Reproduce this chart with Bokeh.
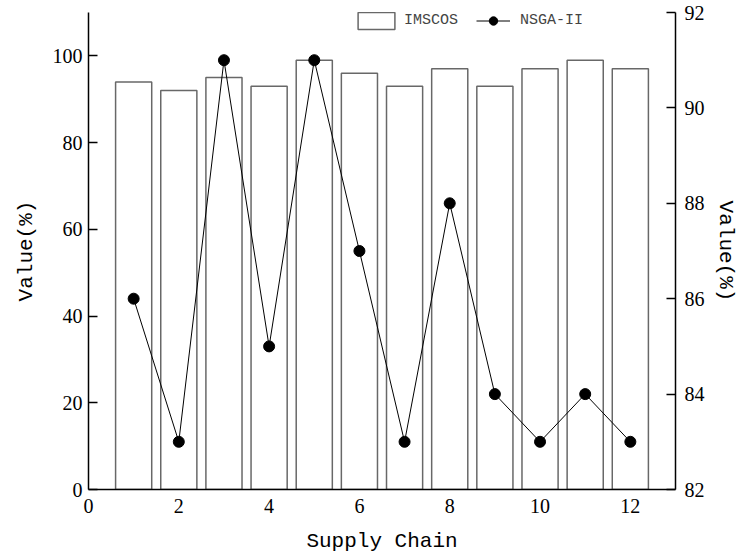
from bokeh.plotting import figure
from bokeh.models import Range1d, LinearAxis, FixedTicker, Legend, LegendItem, ColumnDataSource
from bokeh.embed import file_html
from bokeh.resources import INLINE

chains = [1, 2, 3, 4, 5, 6, 7, 8, 9, 10, 11, 12]
imscos = [94, 92, 95, 93, 99, 96, 93, 97, 93, 97, 99, 97]
nsga2 = [86, 83, 91, 85, 91, 87, 83, 88, 84, 83, 84, 83]
x_ticks = [0, 2, 4, 6, 8, 10, 12]
left_ticks = [0, 20, 40, 60, 80, 100]
right_ticks = [82, 84, 86, 88, 90, 92]

src_bar = ColumnDataSource(dict(x=chains, top=imscos))
src_line = ColumnDataSource(dict(x=chains, y=nsga2))

p = figure(width=739, height=558, output_backend="svg", toolbar_location=None,
           x_range=Range1d(0, 13), y_range=Range1d(0, 110),
           min_border_left=88, min_border_top=12, min_border_bottom=69, min_border_right=59)
p.extra_y_ranges = {"right": Range1d(82, 92)}
p.grid.visible = False
p.outline_line_color = None
p.background_fill_color = "white"
p.border_fill_color = "white"

bars = p.vbar(x="x", top="top", width=0.8, bottom=0, source=src_bar,
              fill_color="white", line_color="#686868", line_width=1.5)
line = p.line(x="x", y="y", source=src_line, y_range_name="right",
              line_color="black", line_width=1)
pts = p.scatter(x="x", y="y", source=src_line, y_range_name="right",
                size=11, fill_color="black", line_color="black")

tick_font = "Liberation Serif"
label_font = "Liberation Mono"

xa = p.xaxis[0]
xa.ticker = FixedTicker(ticks=x_ticks)
xa.axis_label = "Supply Chain"
xa.major_tick_in = 0
xa.major_tick_out = 0
xa.minor_tick_line_color = None

ya = p.yaxis[0]
ya.ticker = FixedTicker(ticks=left_ticks)
ya.axis_label = "Value(%)"
ya.major_tick_in = 9
ya.major_tick_out = 0
ya.minor_tick_line_color = None

ra = LinearAxis(y_range_name="right", axis_label="Value(%)",
                ticker=FixedTicker(ticks=right_ticks))
ra.major_tick_in = 9
ra.major_tick_out = 0
ra.minor_tick_line_color = None
p.add_layout(ra, "right")

for ax in [xa, ya, ra]:
    ax.axis_line_color = "black"
    ax.axis_line_width = 1.5
    ax.major_tick_line_width = 1.5
    ax.major_tick_line_color = "black"
    ax.major_label_text_font = tick_font
    ax.major_label_text_font_size = "20px"
    ax.major_label_text_color = "black"
    ax.axis_label_text_font = label_font
    ax.axis_label_text_font_style = "normal"
    ax.axis_label_text_font_size = "21px"
    ax.axis_label_text_color = "black"
    ax.major_label_standoff = 6
    ax.axis_label_standoff = 10

xa.major_label_standoff = 9
xa.axis_label_standoff = 14
ya.axis_label_standoff = 12
ya.major_label_orientation = "horizontal"
ra.major_label_orientation = "horizontal"
ra.major_label_standoff = 9
ra.axis_label_standoff = 6

leg1 = Legend(items=[LegendItem(label="IMSCOS", renderers=[bars])],
              orientation="horizontal", location=(265, 458),
              border_line_color=None, background_fill_alpha=0,
              label_text_font=label_font, label_text_font_size="15px",
              glyph_width=46, glyph_height=21, margin=0,
              padding=0, label_standoff=5)
leg2 = Legend(items=[LegendItem(label="NSGA-II", renderers=[line, pts])],
              orientation="horizontal", location=(388, 458),
              border_line_color=None, background_fill_alpha=0,
              label_text_font=label_font, label_text_font_size="15px",
              glyph_width=34, glyph_height=21, margin=0,
              padding=0, label_standoff=10)
p.add_layout(leg1, "center")
p.add_layout(leg2, "center")

open("out.html", "w").write(file_html(p, INLINE))
